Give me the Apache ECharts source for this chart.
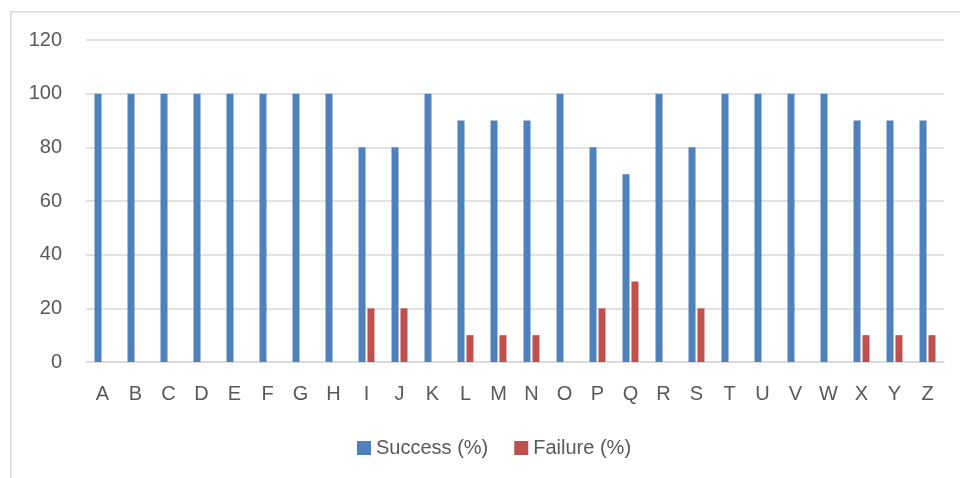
<!DOCTYPE html>
<html>
<head>
<meta charset="utf-8">
<script src="https://cdn.jsdelivr.net/npm/echarts@6/dist/echarts.min.js"></script>
<style>
html,body{margin:0;padding:0;background:#fff;}
#chart{width:960px;height:478px;}
</style>
</head>
<body>
<div id="chart"></div>
<script>
const categories = ['A','B','C','D','E','F','G','H','I','J','K','L','M','N','O','P','Q','R','S','T','U','V','W','X','Y','Z'];
const successValues = [100,100,100,100,100,100,100,100,80,80,100,90,90,90,100,80,70,100,80,100,100,100,100,90,90,90];
const failureValues = [0,0,0,0,0,0,0,0,20,20,0,10,10,10,0,20,30,0,20,0,0,0,0,10,10,10];
const yTicks = {min:0, max:120, interval:20};

const chart = echarts.init(document.getElementById('chart'), null, {renderer:'canvas'});
const font = 'Liberation Sans, Arial, sans-serif';
chart.setOption({
  animation:false,
  backgroundColor:'#fff',
  graphic:[{
    type:'rect', left:10, top:11, z:-1,
    shape:{x:0,y:0,width:1000,height:500},
    style:{fill:'#fff', stroke:'#D9D9D9', lineWidth:1.5}
  }],
  grid:{left:86, right:16, top:40, bottom:116, containLabel:false},
  legend:{
    data:['Success (%)','Failure (%)'],
    left:352, top:433,
    itemWidth:14, itemHeight:14, itemGap:26,
    icon:'rect',
    textStyle:{color:'#595959', fontSize:20, fontFamily:font}
  },
  xAxis:{
    type:'category', data:categories,
    axisLine:{lineStyle:{color:'#D9D9D9', width:1.5}},
    axisTick:{show:false},
    axisLabel:{color:'#595959', fontSize:20, fontFamily:font, margin:22}
  },
  yAxis:{
    type:'value', min:yTicks.min, max:yTicks.max, interval:yTicks.interval,
    axisLine:{show:false}, axisTick:{show:false},
    splitLine:{lineStyle:{color:'#D9D9D9', width:1.5}},
    axisLabel:{color:'#595959', fontSize:20, fontFamily:font, margin:24}
  },
  series:[
    {name:'Success (%)', type:'bar', data:successValues, barWidth:7, barGap:'28%',
     itemStyle:{color:'#4F81BD'}},
    {name:'Failure (%)', type:'bar', data:failureValues, barWidth:7,
     itemStyle:{color:'#C0504D'}}
  ]
});
</script>
</body>
</html>
